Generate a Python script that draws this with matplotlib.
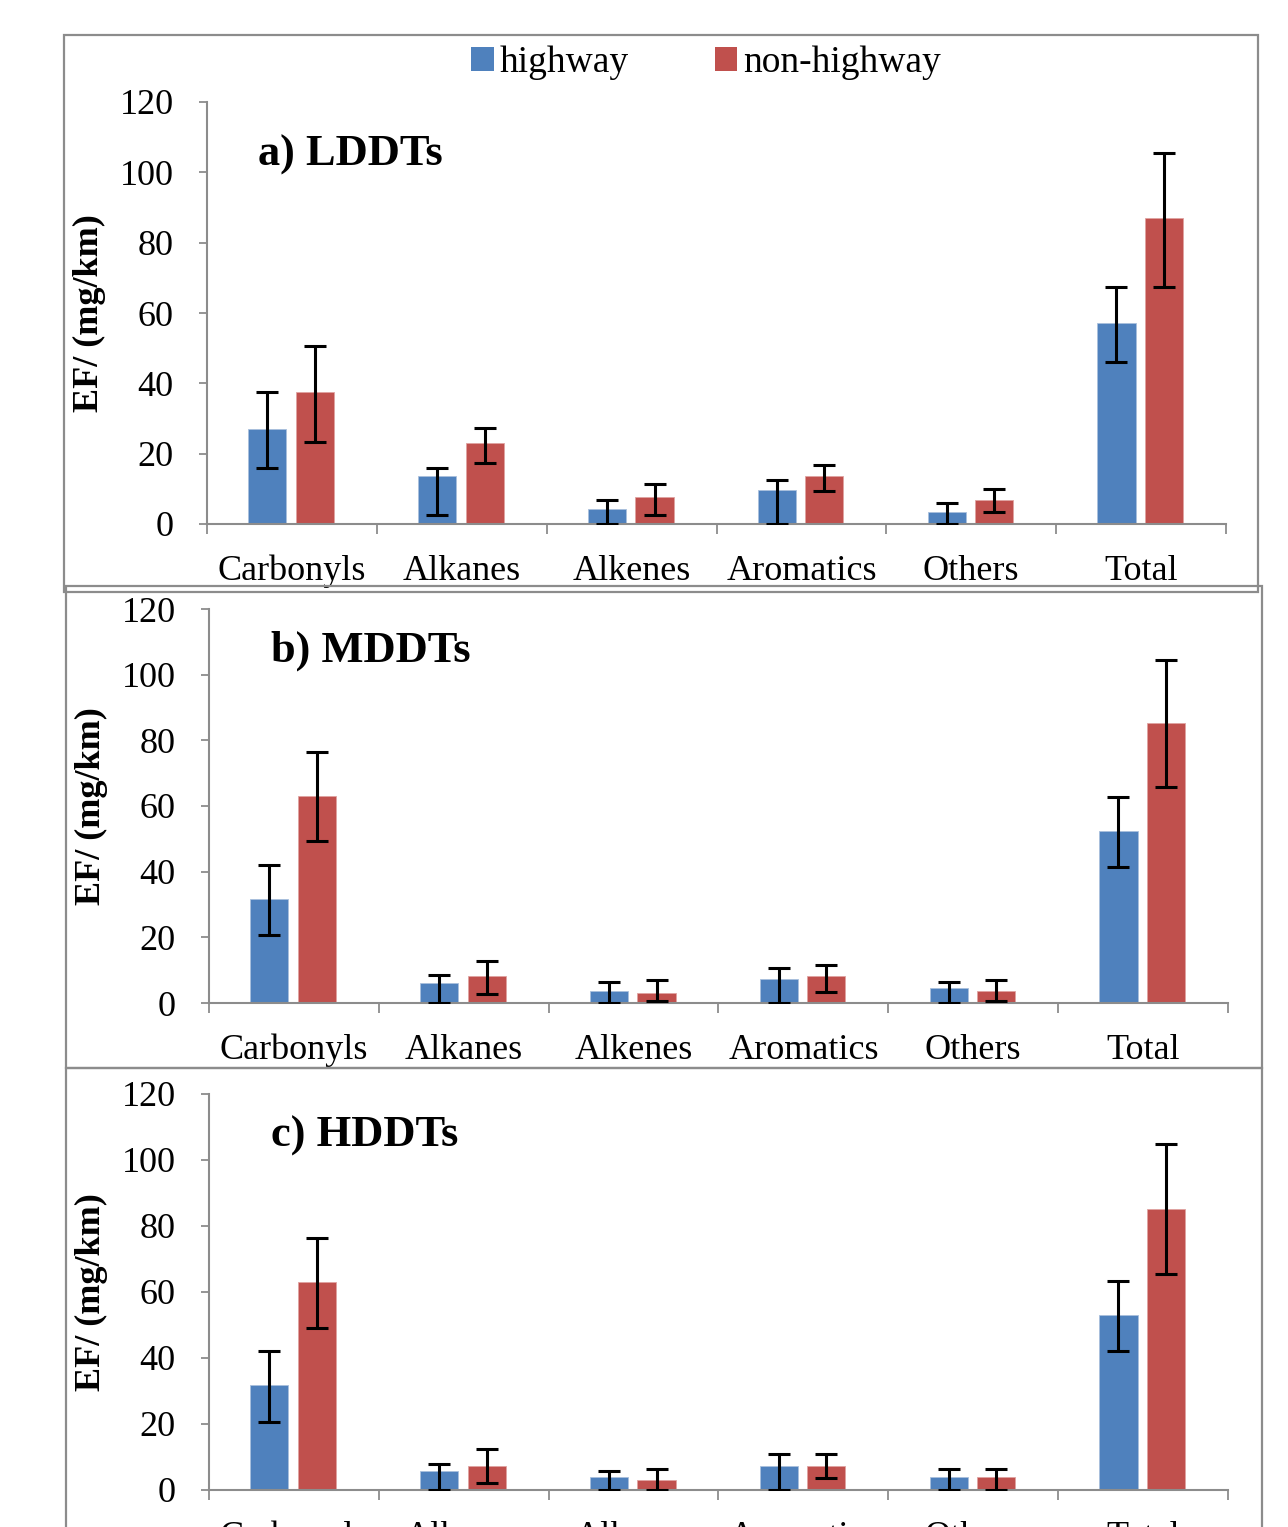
import matplotlib
matplotlib.use("Agg")
import matplotlib.pyplot as plt
from matplotlib.patches import Rectangle, Patch
import numpy as np

plt.rcParams['font.family'] = 'Liberation Serif'

categories = ["Carbonyls", "Alkanes", "Alkenes", "Aromatics", "Others", "Total"]
titles = ["a) LDDTs", "b) MDDTs", "c) HDDTs"]

# panel a) LDDTs
a_hw = [27.0, 13.6, 4.3, 9.7, 3.5, 57.1]
a_hw_hi = [37.4, 16.0, 6.7, 12.6, 6.0, 67.4]
a_hw_lo = [16.0, 2.6, 0.0, 0.0, 0.0, 46.1]
a_nhw = [37.6, 22.9, 7.6, 13.6, 6.9, 87.0]
a_nhw_hi = [50.7, 27.4, 11.4, 16.8, 10.0, 105.4]
a_nhw_lo = [23.3, 17.3, 2.6, 9.3, 3.3, 67.4]

# panel b) MDDTs
b_hw = [31.6, 6.0, 3.7, 7.3, 4.5, 52.4]
b_hw_hi = [42.0, 8.6, 6.4, 10.8, 6.4, 62.8]
b_hw_lo = [20.6, 0.0, 0.0, 0.0, 0.0, 41.3]
b_nhw = [63.0, 8.1, 3.1, 8.1, 3.7, 85.4]
b_nhw_hi = [76.4, 12.8, 7.0, 11.5, 7.1, 104.4]
b_nhw_lo = [49.2, 2.7, 0.7, 3.4, 0.7, 65.7]

# panel c) HDDTs
c_hw = [31.7, 5.9, 3.8, 7.4, 3.8, 53.0]
c_hw_hi = [42.1, 7.9, 5.7, 10.8, 6.4, 63.4]
c_hw_lo = [20.7, 0.0, 0.0, 0.0, 0.0, 42.1]
c_nhw = [63.0, 7.4, 3.1, 7.4, 3.8, 85.1]
c_nhw_hi = [76.3, 12.3, 6.5, 10.8, 6.4, 104.8]
c_nhw_lo = [49.2, 2.0, 0.0, 3.5, 0.0, 65.5]

panels = [
    (a_hw, a_hw_lo, a_hw_hi, a_nhw, a_nhw_lo, a_nhw_hi),
    (b_hw, b_hw_lo, b_hw_hi, b_nhw, b_nhw_lo, b_nhw_hi),
    (c_hw, c_hw_lo, c_hw_hi, c_nhw, c_nhw_lo, c_nhw_hi),
]

BLUE = "#4F81BD"
RED = "#C0504D"
GREY = "#8c8c8c"
W, H = 1288, 1527

fig = plt.figure(figsize=(W / 100, H / 100), dpi=100)

# axes boxes in pixels: left, top(120), right, bottom(0)
boxes = [(207, 102, 1226, 524), (209, 609, 1228, 1003), (209, 1094, 1228, 1490)]
title_pos = [(0.05, 0.874), (0.061, 0.893), (0.061, 0.894)]

# outer frames around each panel (pixels: x0, y0, x1, y1)
frames = [(64, 35, 1258, 592), (66, 586, 1262, 1068), (66, 1068, 1262, 1540)]
for x0, y0, x1, y1 in frames:
    fig.add_artist(Rectangle((x0 / W, 1 - y1 / H), (x1 - x0) / W, (y1 - y0) / H,
                             transform=fig.transFigure, fill=False,
                             edgecolor=GREY, linewidth=1.6, clip_on=False))

x = np.arange(len(categories))
for k, (box, data) in enumerate(zip(boxes, panels)):
    l, t, r, b = box
    ax = fig.add_axes([l / W, 1 - b / H, (r - l) / W, (b - t) / H])
    hw, hw_lo, hw_hi, nhw, nhw_lo, nhw_hi = [np.array(d) for d in data]

    ax.bar(x - 0.145, hw, width=0.225, color=BLUE, edgecolor="#a9c0dc", linewidth=0.6, zorder=2)
    ax.bar(x + 0.135, nhw, width=0.225, color=RED, edgecolor="#e0a3a1", linewidth=0.6, zorder=2)
    ax.errorbar(x - 0.145, hw, yerr=[hw - hw_lo, hw_hi - hw], fmt="none",
                ecolor="black", elinewidth=2.2, capsize=8, capthick=2.2, zorder=3)
    ax.errorbar(x + 0.135, nhw, yerr=[nhw - nhw_lo, nhw_hi - nhw], fmt="none",
                ecolor="black", elinewidth=2.2, capsize=8, capthick=2.2, zorder=3)

    ax.set_xlim(-0.5, 5.5)
    ax.set_ylim(0, 120)
    ax.set_yticks(np.arange(0, 121, 20))
    ax.tick_params(axis="y", labelsize=26, length=6, width=1.3, color=GREY, pad=18)
    ax.set_xticks(x)
    ax.set_xticklabels(categories)
    ax.set_xticks(np.arange(-0.5, 6, 1), minor=True)
    ax.tick_params(axis="x", which="major", length=0, labelsize=26, pad=22)
    ax.tick_params(axis="x", which="minor", length=7, width=1.3, color=GREY)

    for s in ["top", "right"]:
        ax.spines[s].set_visible(False)
    for s in ["left", "bottom"]:
        ax.spines[s].set_color(GREY)
        ax.spines[s].set_linewidth(1.5)

    ax.set_ylabel("EF/ (mg/km)", fontsize=26, fontweight="bold")
    ax.yaxis.set_label_coords(-0.099, 0.5)
    ax.text(title_pos[k][0], title_pos[k][1], titles[k], transform=ax.transAxes,
            fontsize=32, fontweight="bold", va="center", ha="left")

handles = [Patch(facecolor=BLUE, label="highway"), Patch(facecolor=RED, label="non-highway")]
fig.legend(handles=handles, loc="center", bbox_to_anchor=(0.548, 0.959), ncol=2,
           frameon=False, fontsize=27, handlelength=0.6, handleheight=0.6,
           handletextpad=0.15, columnspacing=2.3)

fig.savefig("out.png", dpi=100)
